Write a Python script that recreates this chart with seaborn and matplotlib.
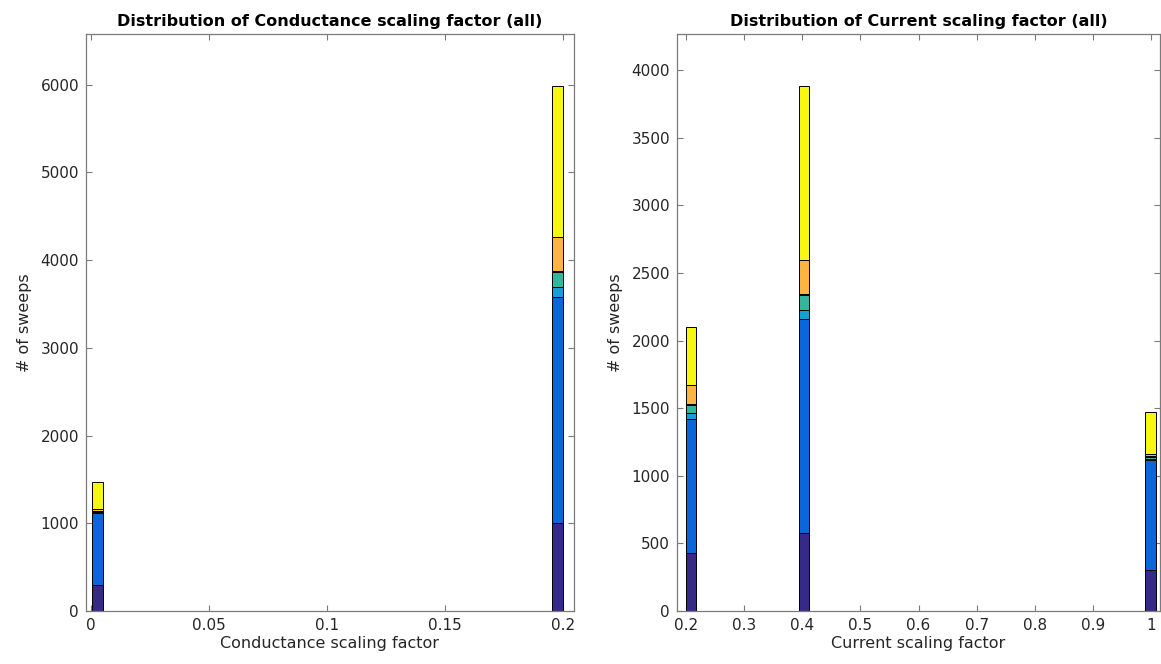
import numpy as np
import pandas as pd
import matplotlib
matplotlib.use("Agg")
import matplotlib.pyplot as plt
import seaborn as sns

# ---------------- data ----------------
layers = ["L1", "L2", "L3", "L4", "L5", "L6", "L7"]          # bottom -> top
layer_colors = ["#352a87", "#0b66dc", "#14a0d4", "#35b59b", "#7fbf73", "#fbb540", "#f7f711"]

# Conductance scaling factor histogram
cond_bin_edges = [0.0005, 0.005, 0.1955, 0.2]
cond_bin_centers = [0.00275, 0.19775]
cond_counts = {                      # per layer, per bar
    "L1": [300, 1005],
    "L2": [815, 2575],
    "L3": [10, 113],
    "L4": [15, 172],
    "L5": [5, 15],
    "L6": [15, 388],
    "L7": [315, 1712],
}

# Current scaling factor histogram
curr_bin_edges = [0.2, 0.218, 0.394, 0.412, 0.990, 1.008]
curr_bin_centers = [0.209, 0.403, 0.999]
curr_counts = {
    "L1": [427, 578, 300],
    "L2": [993, 1582, 815],
    "L3": [45, 68, 10],
    "L4": [60, 112, 15],
    "L5": [7, 8, 5],
    "L6": [138, 250, 15],
    "L7": [430, 1282, 315],
}

cond_xticks = [0, 0.05, 0.1, 0.15, 0.2]
cond_xticklabels = ["0", "0.05", "0.1", "0.15", "0.2"]
cond_yticks = [0, 1000, 2000, 3000, 4000, 5000, 6000]
curr_xticks = [0.2, 0.3, 0.4, 0.5, 0.6, 0.7, 0.8, 0.9, 1.0]
curr_xticklabels = ["0.2", "0.3", "0.4", "0.5", "0.6", "0.7", "0.8", "0.9", "1"]
curr_yticks = [0, 500, 1000, 1500, 2000, 2500, 3000, 3500, 4000]


def to_frame(centers, counts):
    rows = []
    for lay in layers:
        for c, v in zip(centers, counts[lay]):
            rows.append({"x": c, "w": v, "layer": lay})
    return pd.DataFrame(rows)


sns.set_style("white")
plt.rcParams["font.family"] = ["DejaVu Sans"]

fig = plt.figure(figsize=(11.61, 6.64), dpi=100)
W, H = 1161, 664
ax1 = fig.add_axes([86 / W, (H - 611) / H, (574 - 86) / W, (611 - 34) / H])
ax2 = fig.add_axes([677 / W, (H - 611) / H, (1160 - 677) / W, (611 - 34) / H])

palette = dict(zip(layers, layer_colors))
hue_order = layers[::-1]  # seaborn stacks first level on top

axis_gray = "#7a7a7a"
text_col = "#262626"


def draw(ax, df, edges, xlim, ylim, xticks, xticklabels, yticks, title, xlabel):
    sns.histplot(data=df, x="x", weights="w", hue="layer", hue_order=hue_order,
                 palette=palette, bins=edges, multiple="stack", element="bars",
                 alpha=1, edgecolor="black", linewidth=0.7, legend=False, ax=ax)
    for p in list(ax.patches):
        if p.get_height() == 0:
            p.remove()
    ax.set_xlim(*xlim)
    ax.set_ylim(*ylim)
    ax.set_xticks(xticks)
    ax.set_xticklabels(xticklabels)
    ax.set_yticks(yticks)
    ax.set_yticklabels([str(t) for t in yticks])
    ax.tick_params(direction="in", length=4, width=0.8, color=axis_gray,
                   labelsize=11, labelcolor=text_col, top=True, right=True,
                   bottom=True, left=True, pad=5)
    for s in ax.spines.values():
        s.set_visible(True)
        s.set_color(axis_gray)
        s.set_linewidth(0.9)
    ax.set_title(title, fontsize=11.5, fontweight="bold", color="black", pad=6)
    ax.set_xlabel(xlabel, fontsize=11.5, color=text_col, labelpad=2)
    ax.set_ylabel("# of sweeps", fontsize=11.5, color=text_col, labelpad=6)


draw(ax1, to_frame(cond_bin_centers, cond_counts), cond_bin_edges,
     (-0.0021, 0.2047), (0, 6578), cond_xticks, cond_xticklabels, cond_yticks,
     "Distribution of Conductance scaling factor (all)", "Conductance scaling factor")
draw(ax2, to_frame(curr_bin_centers, curr_counts), curr_bin_edges,
     (0.1845, 1.0155), (0, 4268), curr_xticks, curr_xticklabels, curr_yticks,
     "Distribution of Current scaling factor (all)", "Current scaling factor")

fig.savefig("out.png", dpi=100)
